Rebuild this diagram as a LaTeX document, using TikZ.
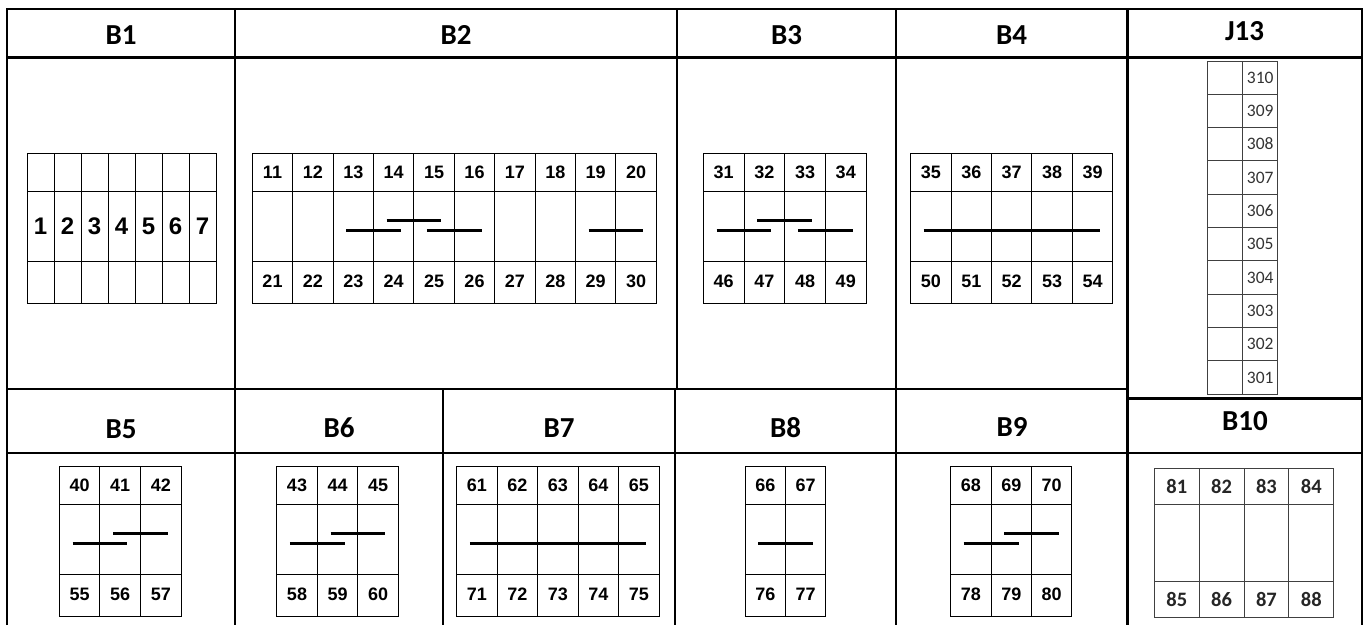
\documentclass[tikz,border=0pt]{standalone}
\usepackage{fontspec}
\setmainfont{Liberation Sans}
\newfontfamily\calibri{Carlito}

\begin{document}
\begin{tikzpicture}[x=1pt, y=-1pt,
    frame/.style={line width=2.2pt},
    cell/.style={line width=1pt},
    softcell/.style={line width=1pt, black!75},
    jumper/.style={line width=2.7pt},
    head/.style={font=\calibri\bfseries\fontsize{29}{29}\selectfont, inner sep=0pt,
      text height=18.7pt, text depth=0pt},
    pin/.style={font=\bfseries\fontsize{18}{18}\selectfont, inner sep=0pt,
      text height=12.9pt, text depth=0pt},
    bigpin/.style={font=\bfseries\fontsize{24}{24}\selectfont, inner sep=0pt,
      text height=17.2pt, text depth=0pt},
    jpin/.style={font=\calibri\fontsize{17.5}{18}\selectfont, inner sep=0pt, black!80,
      text height=11.1pt, text depth=0pt},
    bpin/.style={font=\calibri\bfseries\fontsize{20.5}{21}\selectfont, inner sep=0pt, black!85,
      text height=13pt, text depth=0pt}]

  \useasboundingbox (0,0) rectangle (1366,625);

  % table frame
  \draw[frame] (7,625) -- (7,9) -- (1362,9) -- (1362,625);
  \draw[frame] (7,57.5) -- (1362,57.5);
  \draw[frame] (7,389) -- (1127.5,389);
  \draw[frame] (1127.5,398.5) -- (1362,398.5);
  \draw[frame] (7,453) -- (1362,453);
  \foreach \x in {235,896,1127.5}
    \draw[frame] (\x,9) -- (\x,625);
  \draw[frame] (677,9) -- (677,389);
  \foreach \x in {443,675}
    \draw[frame] (\x,389) -- (\x,625);

  % headers
  \foreach \name/\x/\y in {B1/121/35, B2/456/35, B3/786.5/35, B4/1011.5/35,
      J13/1244.5/31.5, B5/121/429, B6/339/428.5, B7/559/428.5,
      B8/785.5/428.5, B9/1012/427.5, B10/1245/421}
    \node[head] (h\name) at (\x,\y) {\name};

  % B1
  \draw[cell] (27,153) rectangle (216,303);
  \draw[cell] (27,191) -- (216,191) (27,261) -- (216,261);
  \foreach \i in {1,...,7} {
    \ifnum\i<7 \draw[cell] (27+\i*27,153) -- (27+\i*27,303); \fi
    \node[bigpin] (n\i) at (13.5+\i*27,226) {\i};
  }

  % pin blocks with numbered top and bottom rows
  \foreach \bx/\by/\n/\w/\top/\bot in {252.3/153/10/40.4/11/21,
      703.3/153/4/40.7/31/46, 910.7/153/5/40.4/35/50,
      59.3/466/3/40.6/40/55, 276.7/466/3/40.6/43/58,
      456.7/466/5/40.5/61/71, 745.3/466/2/40.2/66/76,
      950.7/466/3/40.4/68/78} {
    \draw[cell] (\bx,\by) rectangle ++(\n*\w,150);
    \draw[cell] (\bx,\by+38) -- ++(\n*\w,0) (\bx,\by+108) -- ++(\n*\w,0);
    \foreach \i in {1,...,\n} {
      \ifnum\i<\n \draw[cell] (\bx+\i*\w,\by) -- ++(0,150); \fi
      \pgfmathtruncatemacro\a{\top+\i-1}
      \pgfmathtruncatemacro\b{\bot+\i-1}
      \node[pin] (n\a) at (\bx+\i*\w-\w/2,\by+19) {\a};
      \node[pin] (n\b) at (\bx+\i*\w-\w/2,\by+128.5) {\b};
    }
  }

  % B10
  \draw[softcell] (1154.3,468.3) rectangle (1333.7,617.3);
  \draw[softcell] (1154.3,504.3) -- (1333.7,504.3) (1154.3,581.7) -- (1333.7,581.7);
  \foreach \i in {1,...,4} {
    \ifnum\i<4 \draw[softcell] (1154.3+\i*44.85,468.3) -- ++(0,149); \fi
    \pgfmathtruncatemacro\a{80+\i}
    \pgfmathtruncatemacro\b{84+\i}
    \node[bpin] (n\a) at (1131.9+\i*44.85,486.8) {\a};
    \node[bpin] (n\b) at (1131.9+\i*44.85,600) {\b};
  }

  % J13
  \draw[softcell] (1207.3,61) rectangle (1277.7,394.3);
  \draw[softcell] (1242.7,61) -- (1242.7,394.3);
  \foreach \k in {1,...,9}
    \draw[softcell] (1207.3,61+\k*33.33) -- ++(70.4,0);
  \foreach \k in {0,...,9} {
    \pgfmathtruncatemacro\p{310-\k}
    \node[jpin] (n\p) at (1260.2,77.7+\k*33.33) {\p};
  }

  % jumpers
  \foreach \x/\y in {373.5/230.3, 413.9/220.3, 454.3/230.3, 615.9/230.3,
      744/230.3, 784.7/220.3, 825.4/230.3,
      99.9/543.3, 140.5/533.3, 317.3/543.3, 357.9/533.3,
      785.5/543.3, 991.1/543.3, 1031.5/533.3}
    \draw[jumper] (\x-27.4,\y) -- (\x+27.4,\y);
  \draw[jumper] (923.7,230.3) -- (1099.7,230.3);
  \draw[jumper] (469.8,543.3) -- (646.1,543.3);
\end{tikzpicture}
\end{document}
